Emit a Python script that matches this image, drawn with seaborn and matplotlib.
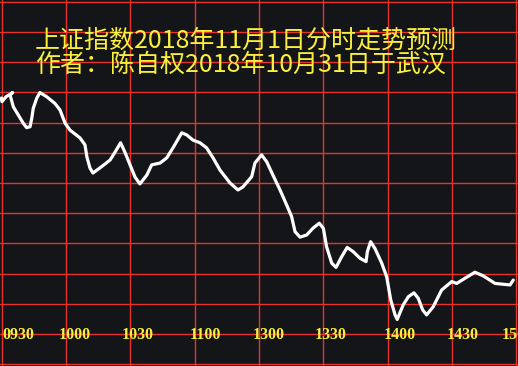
import matplotlib
matplotlib.use("Agg")
import matplotlib.pyplot as plt
import seaborn as sns
import pandas as pd

# ---- data -------------------------------------------------------------
minutes = [0, 0.2, 2.1, 5.2, 4.0, 5.5, 7.8, 10.2, 11.7, 13.3, 14.1, 14.8, 16.4, 17.9,
           21.1, 24.9, 27.3, 29.6, 31.9, 36.6, 38.9, 39.8, 41.2, 42.6, 45.9, 50.6,
           52.9, 55.5, 57.5, 59.9, 62.2, 64.5, 67.7, 70.0, 73.9, 77.0, 79.9, 84.0,
           86.3, 89.2, 92.5, 95.6, 98.6, 101.8, 106.5, 110.2, 112.5, 116.6, 118.1,
           121.2, 123.6, 126.5, 129.8, 132.9, 135.2, 136.8, 139.1, 142.2, 145.2,
           148.1, 150.0, 151.5, 153.9, 155.9, 158.5, 161.1, 163.9, 167.1, 169.9,
           170.5, 172.0, 174.0, 177.2, 179.5, 181.4, 183.4, 184.4, 187.2, 189.6,
           192.2, 194.2, 196.3, 198.1, 201.2, 205.1, 209.8, 212.1, 216.0, 220.6,
           224.5, 230.0, 237.0, 238.5]
values = [2628.1, 2626.9, 2628.5, 2629.9, 2629.1, 2625.2, 2622.5, 2619.7, 2618.3,
          2618.6, 2621.4, 2624.7, 2628.0, 2629.9, 2628.5, 2626.3, 2624.1, 2619.8,
          2617.5, 2614.9, 2612.6, 2608.6, 2605.0, 2603.3, 2605.0, 2607.6, 2610.2,
          2613.3, 2610.2, 2606.0, 2602.0, 2599.7, 2602.6, 2606.0, 2606.6, 2608.3,
          2611.6, 2616.6, 2615.9, 2614.2, 2613.3, 2611.6, 2608.3, 2604.3, 2600.0,
          2597.7, 2598.7, 2602.1, 2606.6, 2609.3, 2607.0, 2602.6, 2597.7, 2592.7,
          2588.9, 2583.9, 2582.1, 2582.8, 2585.1, 2586.7, 2585.0, 2578.9, 2573.5,
          2572.1, 2575.6, 2578.7, 2577.3, 2575.1, 2574.0, 2577.3, 2580.6, 2578.4,
          2573.5, 2569.0, 2561.3, 2556.4, 2554.9, 2559.7, 2562.4, 2563.7, 2561.9,
          2558.0, 2556.4, 2559.1, 2564.6, 2567.4, 2566.8, 2568.5, 2570.5, 2569.3,
          2566.8, 2566.3, 2567.9]
tick_labels = ["0930", "1000", "1030", "1100", "1300", "1330", "1400", "1430", "1500"]
title_lines = ["上证指数2018年11月1日分时走势预测", "作者：陈自权2018年10月31日于武汉"]

# ---- layout / style constants ----------------------------------------
label_x = [0.2, 26.8, 56.2, 87.8, 117.2, 146.1, 178.2, 207.6, 233.2]
label_y = 2549.8
BG = "#141518"
RED = "#E8322D"
YELLOW = "#FAF03C"

sns.set_style("dark", rc={"axes.facecolor": BG, "figure.facecolor": BG})
plt.rcParams["font.family"] = ["Noto Sans CJK SC", "DejaVu Sans"]

fig = plt.figure(figsize=(5.18, 3.66), dpi=100)
ax = fig.add_axes([0, 0, 1, 1])
ax.set_facecolor(BG)

df = pd.DataFrame({"minute": minutes, "value": values})
sns.lineplot(data=df, x="minute", y="value", sort=False, estimator=None,
             color="white", linewidth=2.3, ax=ax, zorder=3)

ax.set_xlim(-0.70, 240.70)
ax.set_ylim(2539.5, 2660.5)
ax.set_xticks(range(0, 241, 30))
ax.set_yticks(range(2540, 2661, 10))
ax.grid(True, color=RED, linewidth=1.0, zorder=1)
ax.set_axisbelow(True)
ax.tick_params(length=0, labelbottom=False, labelleft=False)
ax.set_xlabel("")
ax.set_ylabel("")
for s in ax.spines.values():
    s.set_visible(False)

for x, lab in zip(label_x, tick_labels):
    ax.text(x, label_y, lab, ha="left", va="center", color=YELLOW,
            fontsize=11.5, fontweight="bold", family=["Liberation Serif"],
            zorder=4, clip_on=True)

fig.text(35 / 518, 1 - 52.5 / 366, "\n".join(title_lines), ha="left", va="center",
         color=YELLOW, fontsize=18, linespacing=0.93,
         family=["Noto Sans CJK SC", "DejaVu Sans"])

fig.savefig("out.png", dpi=100, facecolor=BG)
